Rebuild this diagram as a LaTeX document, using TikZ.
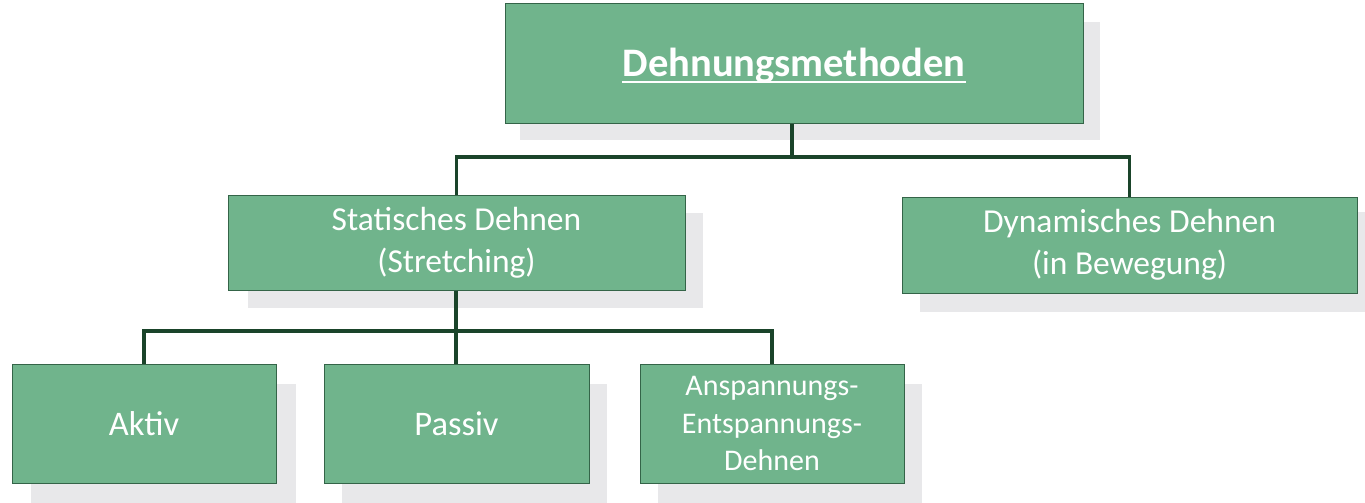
\documentclass[tikz,border=0pt]{standalone}
\usepackage{fontspec}
\setmainfont{Carlito}
\definecolor{boxfill}{RGB}{112,180,140}
\definecolor{boxline}{RGB}{52,100,72}
\definecolor{conn}{RGB}{26,68,42}
\definecolor{shadowc}{RGB}{232,232,234}
\begin{document}
\begin{tikzpicture}[x=1pt,y=-1pt,
  box/.style={draw=boxline,line width=1pt,fill=boxfill,text=white,align=center,inner sep=0pt},
  conline/.style={draw=conn,line width=3.5pt},
  shadowbox/.style={fill=shadowc,draw=none}]
\useasboundingbox (0,0) rectangle (1365,503);
% shadows
\fill[shadowc] (520,22) rectangle (1100,140);
\fill[shadowc] (248,213) rectangle (703,308);
\fill[shadowc] (920,212) rectangle (1365,312);
\fill[shadowc] (31,384) rectangle (296,503);
\fill[shadowc] (342,384) rectangle (607,503);
\fill[shadowc] (658,384) rectangle (922,503);
% boxes
\node[box,minimum width=578pt,minimum height=119pt] (top) at (794,63.5) {};
\node[text=white,inner sep=0pt,anchor=base,font=\fontsize{40.5}{46}\selectfont\bfseries] (toptext) at (794,77)
  {Dehnungsmethoden};
\draw[white,line width=2.5pt] ([yshift=-5pt]toptext.base west) -- ([yshift=-5pt]toptext.base east);
\node[box,minimum width=457pt,minimum height=95pt,font=\fontsize{33.5}{42}\selectfont] (stat) at (456.5,242.5)
  {Statisches Dehnen\\(Stretching)};
\node[box,minimum width=455pt,minimum height=96pt,font=\fontsize{33.5}{42}\selectfont] (dyn) at (1129.5,245)
  {Dynamisches Dehnen\\(in Bewegung)};
\node[box,minimum width=264pt,minimum height=119pt,font=\fontsize{34.5}{42}\selectfont] (aktiv) at (144,423.5)
  {Aktiv};
\node[box,minimum width=265pt,minimum height=119pt,font=\fontsize{34.5}{42}\selectfont] (passiv) at (456.5,423.5)
  {Passiv};
\node[box,minimum width=264pt,minimum height=119pt,font=\fontsize{30}{37.5}\selectfont] (aes) at (772,423.5)
  {Anspannungs-\\Entspannungs-\\Dehnen};
% connectors
\coordinate (j1) at (792,157);
\coordinate (j2) at (456,331);
\draw[conline] (top.south -| j1) -- (j1);
\draw[conline,line join=miter] (stat.north) |- (j1) -| (dyn.north);
\draw[conline] (stat.south -| j2) -- (passiv.north -| j2);
\draw[conline,line join=miter] (aktiv.north) |- (j2) -| (aes.north);
\end{tikzpicture}
\end{document}
